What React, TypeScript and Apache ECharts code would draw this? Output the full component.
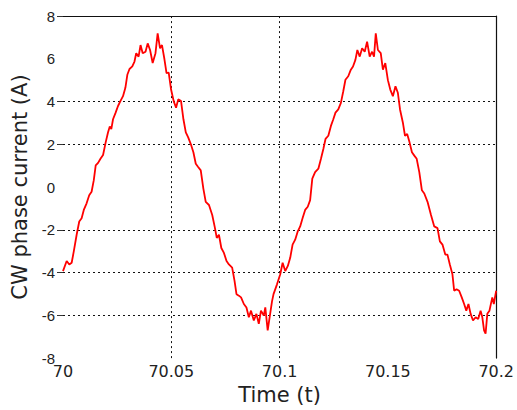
import React, { useEffect, useRef } from "react";
import * as echarts from "echarts";

const times = [
  70.0, 70.0017, 70.0029, 70.004, 70.005, 70.0063, 70.0075, 70.0086, 70.0096, 70.0109,
  70.0121, 70.0132, 70.0142, 70.0151, 70.0162, 70.0173, 70.0185, 70.0197, 70.0208, 70.0216,
  70.0223, 70.0231, 70.0243, 70.0254, 70.0265, 70.0277, 70.0288, 70.0297, 70.0307, 70.032,
  70.033, 70.0338, 70.0349, 70.0358, 70.0368, 70.0381, 70.0391, 70.0402, 70.0414, 70.0427,
  70.0437, 70.0448, 70.0457, 70.0468, 70.0478, 70.0488, 70.0499, 70.0511, 70.0522, 70.0532,
  70.0545, 70.0556, 70.0567, 70.0578, 70.059, 70.0602, 70.0613, 70.0624, 70.0636, 70.0648,
  70.0659, 70.0674, 70.0689, 70.07, 70.071, 70.072, 70.0731, 70.0743, 70.0755, 70.0766,
  70.0781, 70.0792, 70.0801, 70.0812, 70.0822, 70.0835, 70.0847, 70.0858, 70.0868, 70.0881,
  70.0893, 70.0904, 70.0914, 70.0927, 70.0934, 70.0945, 70.0954, 70.0965, 70.0972, 70.0988,
  70.1003, 70.1014, 70.1026, 70.1038, 70.1049, 70.106, 70.1072, 70.1084, 70.1095, 70.1106,
  70.1118, 70.113, 70.1141, 70.1151, 70.1164, 70.1179, 70.1191, 70.1202, 70.1212, 70.1225,
  70.1237, 70.1248, 70.1258, 70.1271, 70.1283, 70.1294, 70.1304, 70.1317, 70.1329, 70.1339,
  70.135, 70.1359, 70.137, 70.1381, 70.1393, 70.1404, 70.1416, 70.1427, 70.1436, 70.1444,
  70.1454, 70.1467, 70.1477, 70.1488, 70.15, 70.1511, 70.1523, 70.1535, 70.1546, 70.1556,
  70.1569, 70.1579, 70.1589, 70.16, 70.1611, 70.1622, 70.1633, 70.1645, 70.1657, 70.1668,
  70.1683, 70.1699, 70.1714, 70.1729, 70.174, 70.1752, 70.1765, 70.1775, 70.1786, 70.1798,
  70.1806, 70.1817, 70.1829, 70.1841, 70.1852, 70.1862, 70.1872, 70.1882, 70.1893, 70.1905,
  70.1917, 70.1928, 70.1936, 70.1944, 70.1951, 70.1959, 70.1969, 70.1982, 70.1989, 70.2,
];

const current = [
  -3.93, -3.46, -3.62, -3.54, -3.0, -2.23, -1.61, -1.46, -1.07, -0.76,
  -0.38, -0.22, 0.31, 1.01, 1.13, 1.32, 1.5, 2.09, 2.56, 2.83,
  2.71, 3.17, 3.48, 3.79, 4.02, 4.25, 4.64, 5.25, 5.52, 5.64,
  5.87, 6.26, 6.1, 6.64, 6.26, 6.33, 6.72, 6.41, 5.8, 6.26,
  7.19, 6.49, 6.64, 6.0, 5.33, 5.35, 4.56, 4.02, 3.71, 4.1,
  4.02, 3.17, 2.56, 2.32, 2.01, 1.63, 1.09, 0.94, 0.78, -0.07,
  -0.69, -0.84, -1.31, -1.84, -2.38, -2.23, -2.85, -3.08, -3.46, -3.62,
  -3.77, -4.39, -5.01, -5.08, -5.16, -5.47, -5.63, -6.09, -5.78, -6.24,
  -5.93, -6.4, -5.78, -6.01, -5.63, -6.7, -6.09, -5.35, -5.01, -4.55,
  -4.08, -3.54, -3.93, -3.69, -3.31, -2.69, -2.46, -2.07, -1.84, -1.46,
  -1.07, -0.92, -0.61, 0.39, 0.7, 0.86, 1.32, 1.78, 2.25, 2.4,
  2.86, 3.17, 3.48, 3.63, 3.94, 4.48, 5.02, 5.18, 5.49, 5.64,
  5.95, 6.41, 6.1, 6.49, 6.33, 6.8, 6.1, 6.33, 6.1, 7.19,
  6.41, 6.26, 5.49, 5.8, 5.0, 4.56, 4.25, 4.71, 4.41, 3.63,
  3.02, 2.4, 2.48, 2.09, 1.63, 1.47, 1.32, 0.7, -0.15, -0.3,
  -0.69, -1.31, -1.84, -1.92, -2.54, -2.69, -3.16, -3.16, -3.62, -4.08,
  -4.85, -4.78, -4.85, -5.16, -5.47, -5.78, -5.47, -5.93, -6.24, -6.09,
  -6.17, -5.78, -6.09, -6.7, -6.86, -5.93, -5.78, -5.16, -5.47, -4.85,
];

const gridYValues = [4, 2, -2, -4, -6];
const gridXValues = [70.05, 70.1];
const yTickValues = [8, 4, 2, -2, -4, -6];

export default function App() {
  const ref = useRef<HTMLDivElement>(null);

  useEffect(() => {
    if (!ref.current) return;
    const chart = echarts.init(ref.current, null, { renderer: "svg" });
    const points = times.map((t, i) => [t, current[i]]);
    const gridLine = { color: "#111", type: [2, 3], width: 1 };
    chart.setOption({
      animation: false,
      backgroundColor: "#ffffff",
      grid: { left: 63, right: 18, top: 16, bottom: 50, containLabel: false },
      xAxis: [
        {
          type: "value",
          position: "bottom",
          min: 70,
          max: 70.2,
          interval: 0.05,
          axisLine: { show: false },
          axisTick: { show: false },
          splitLine: { show: false },
          axisLabel: {
            color: "#222",
            fontFamily: "DejaVu Sans",
            fontSize: 16,
            margin: 5,
          },
          name: "Time (t)",
          nameLocation: "middle",
          nameGap: 23,
          nameTextStyle: { color: "#222", fontFamily: "DejaVu Sans", fontSize: 21 },
        },
        {
          type: "value",
          position: "top",
          min: 70,
          max: 70.2,
          interval: 0.05,
          axisLine: { show: true, onZero: false, lineStyle: { color: "#111", width: 1.2 } },
          axisTick: { show: false },
          axisLabel: { show: false },
          splitLine: { show: false },
        },
      ],
      yAxis: [
        {
          type: "value",
          position: "left",
          min: -8,
          max: 8,
          interval: 2,
          axisLine: { show: false },
          axisTick: {
            show: true,
            inside: false,
            length: 6,
            customValues: yTickValues,
            lineStyle: { color: "#333", width: 1 },
          },
          splitLine: { show: false },
          axisLabel: {
            color: "#222",
            fontFamily: "Liberation Sans",
            fontSize: 15,
            margin: 8,
          },
          name: "CW phase current (A)",
          nameLocation: "middle",
          nameGap: 28,
          nameTextStyle: { color: "#222", fontFamily: "DejaVu Sans", fontSize: 21 },
        },
        {
          type: "value",
          position: "right",
          min: -8,
          max: 8,
          interval: 2,
          axisLine: { show: true, onZero: false, lineStyle: { color: "#111", width: 1.2 } },
          axisTick: { show: false },
          axisLabel: { show: false },
          splitLine: { show: false },
        },
      ],
      series: [
        {
          type: "line",
          xAxisIndex: 0,
          yAxisIndex: 0,
          data: points,
          showSymbol: false,
          symbol: "none",
          lineStyle: { color: "#ff0000", width: 1.8 },
          z: 3,
          markLine: {
            silent: true,
            symbol: "none",
            label: { show: false },
            lineStyle: gridLine,
            z: 1,
            data: [
              ...gridYValues.map((v) => ({ yAxis: v })),
              ...gridXValues.map((v) => ({ xAxis: v })),
            ],
          },
        },
      ],
    });
    return () => chart.dispose();
  }, []);

  return (
    <div
      ref={ref}
      style={{ position: "absolute", left: 0, top: 0, width: 517, height: 410, background: "#fff" }}
    />
  );
}
